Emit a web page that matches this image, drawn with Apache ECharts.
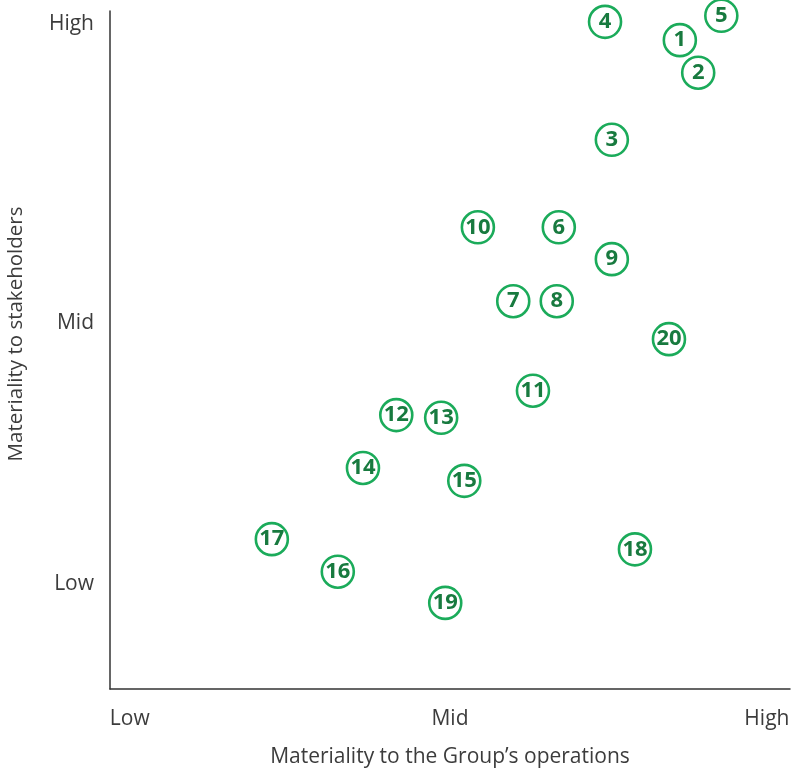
<!DOCTYPE html>
<html>
<head>
<meta charset="utf-8">
<script src="https://cdn.jsdelivr.net/npm/echarts@6/dist/echarts.min.js"></script>
<style>
  html, body { margin: 0; padding: 0; background: #fff; }
  #chart { width: 794px; height: 770px; }
</style>
</head>
<body>
<div id="chart"></div>
<script>
// Materiality topics: id, materiality to operations (x), materiality to stakeholders (y), 0–100 scale
const topicIds = ['1','2','3','4','5','6','7','8','9','10','11','12','13','14','15','16','17','18','19','20'];
const operationsScore = [83.8, 86.5, 73.8, 72.8, 89.9, 66.0, 59.3, 65.7, 73.8, 54.1, 62.2, 42.1, 48.7, 37.2, 52.1, 33.5, 23.8, 77.2, 49.3, 82.2];
const stakeholderScore = [95.7, 90.9, 81.0, 98.4, 99.3, 68.1, 57.2, 57.2, 63.4, 68.1, 44.0, 40.4, 40.0, 32.6, 30.7, 17.3, 22.1, 20.6, 12.7, 51.6];

// Qualitative tick labels and where they sit on the 0–100 scale
const levelNames = ['Low', 'Mid', 'High'];
const xLevelValues = [2.9, 50, 96.6];
const yLevelValues = [15.5, 54.0, 98.1];

const ringGreen = '#1bab5a';
const textGreen = '#187a3f';
const axisGrey = '#333333';
const labelGrey = '#3c3c3c';
const fontFamily = '"Open Sans", "Noto Sans", sans-serif';

const points = topicIds.map((id, i) => ({ name: id, value: [operationsScore[i], stakeholderScore[i]] }));

function levelFormatter(values) {
  return function (v) {
    let best = 0;
    values.forEach((t, i) => { if (Math.abs(t - v) < Math.abs(values[best] - v)) best = i; });
    return levelNames[best];
  };
}

const chart = echarts.init(document.getElementById('chart'), null, { renderer: 'canvas' });
chart.setOption({
  animation: false,
  backgroundColor: '#ffffff',
  grid: { left: 110, right: 4, top: 11, bottom: 81, containLabel: false, outerBoundsMode: 'none' },
  xAxis: {
    type: 'value', min: 0, max: 100,
    name: 'Materiality to the Group\u2019s operations',
    nameLocation: 'middle', nameGap: 58,
    nameTextStyle: { fontFamily, fontSize: 21, color: labelGrey },
    axisLine: { show: true, lineStyle: { color: axisGrey, width: 1.5 } },
    axisTick: { show: false },
    splitLine: { show: false },
    axisLabel: {
      customValues: xLevelValues,
      formatter: levelFormatter(xLevelValues),
      margin: 20, fontFamily, fontSize: 21, color: labelGrey
    }
  },
  yAxis: {
    type: 'value', min: 0, max: 100,
    name: 'Materiality to stakeholders',
    nameLocation: 'middle', nameGap: 83,
    nameTextStyle: { fontFamily, fontSize: 20.5, color: labelGrey, padding: [0, 0, 0, 32] },
    axisLine: { show: true, lineStyle: { color: axisGrey, width: 1.5 } },
    axisTick: { show: false },
    splitLine: { show: false },
    axisLabel: {
      customValues: yLevelValues,
      formatter: levelFormatter(yLevelValues),
      margin: 16, fontFamily, fontSize: 21, color: labelGrey
    }
  },
  series: [{
    type: 'scatter',
    data: points,
    clip: false,
    symbol: 'circle',
    symbolSize: 32,
    itemStyle: { color: '#ffffff', borderColor: ringGreen, borderWidth: 2.6, opacity: 1 },
    label: {
      show: true, position: 'inside',
      formatter: p => p.name,
      color: textGreen, fontWeight: 'bold', fontSize: 22,
      fontFamily: '"Liberation Sans Narrow", "Noto Sans", sans-serif'
    },
    emphasis: { disabled: true }
  }]
});
</script>
</body>
</html>
